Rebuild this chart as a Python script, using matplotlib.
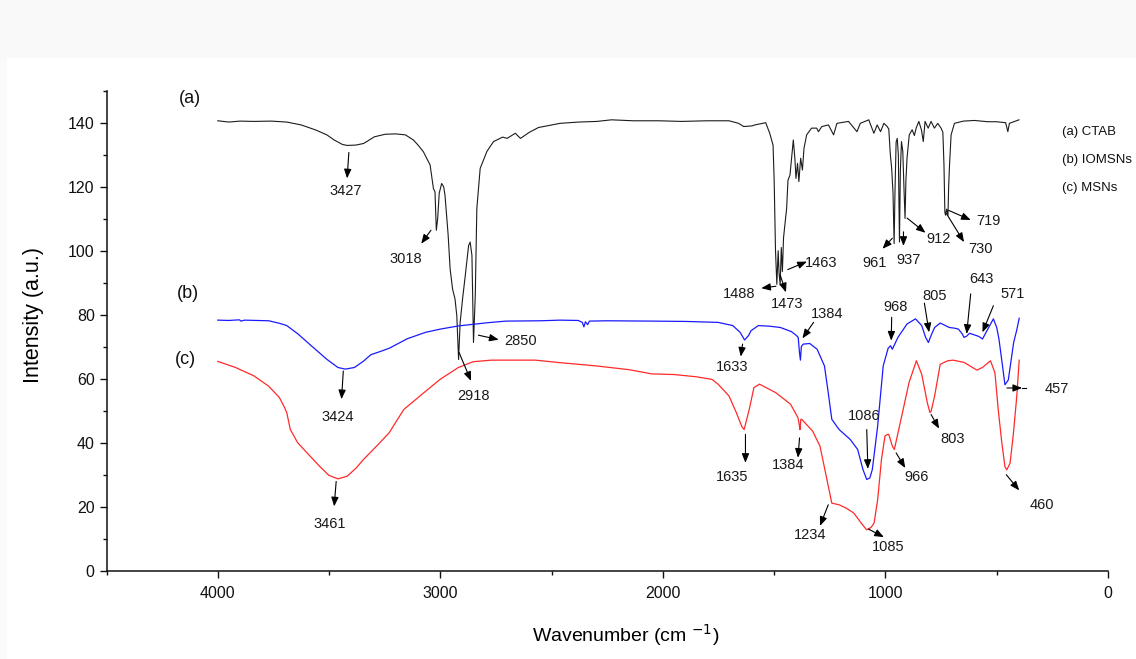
import matplotlib
matplotlib.use("Agg")
import matplotlib.pyplot as plt
from matplotlib.ticker import MultipleLocator, FixedLocator
from matplotlib.patches import Rectangle

plt.rcParams['font.family'] = ['Liberation Sans', 'DejaVu Sans']

# ---------------- data ----------------
ctab_wn = [4000, 3950, 3900, 3838, 3760, 3690, 3625, 3559, 3510, 3477, 3440, 3419, 3380, 3345,
           3296, 3247, 3200, 3157, 3121, 3100, 3076, 3046, 3031, 3024, 3018, 3012, 3005, 2994,
           2985, 2979, 2965, 2956, 2945, 2934, 2926, 2918, 2911, 2900, 2888, 2873, 2866, 2858,
           2851, 2843, 2836, 2821, 2791, 2761, 2720, 2700, 2663, 2640, 2600, 2559, 2500, 2462,
           2379, 2297, 2231, 2132, 2017, 1917, 1802, 1703, 1660, 1637, 1600, 1587, 1538, 1520,
           1505, 1500, 1494, 1488, 1482, 1478, 1473, 1468, 1463, 1458, 1452, 1444, 1438, 1429,
           1414, 1407, 1402, 1395, 1389, 1381, 1373, 1366, 1354, 1332, 1309, 1301, 1286, 1256,
           1233, 1218, 1166, 1128, 1113, 1075, 1052, 1037, 1022, 1007, 992, 985, 978, 972, 966,
           961, 957, 952, 947, 942, 937, 933, 928, 922, 917, 912, 908, 903, 893, 880, 870, 862,
           850, 838, 830, 822, 808, 795, 780, 765, 750, 742, 737, 733, 730, 725, 719, 716, 712,
           705, 690, 650, 600, 540, 500, 460, 450, 443, 420, 400]
ctab_int = [140.6, 140.2, 140.5, 140.4, 140.5, 140.2, 139.3, 137.7, 136.2, 134.6, 133.2, 132.9, 133.0, 133.5,
            135.6, 136.4, 136.5, 136.2, 134.6, 133.0, 130.9, 126.8, 119.4, 118.4, 106.4, 110.0, 118.0, 121.0,
            120.0, 117.3, 105.0, 94.3, 88.0, 84.9, 79.7, 66.0, 77.6, 85.0, 92.2, 101.6, 102.7, 98.5,
            71.3, 86.0, 113.2, 125.7, 131.0, 134.1, 135.5, 135.1, 136.7, 135.1, 137.0, 138.5, 139.3, 139.8,
            140.2, 140.4, 140.9, 140.6, 140.6, 140.4, 140.6, 140.6, 139.8, 138.8, 139.0, 139.3, 140.0, 136.7,
            133.0, 122.0, 100.0, 89.5, 100.0, 93.0, 89.3, 101.0, 93.5, 104.0, 108.0, 113.2, 122.0, 123.6,
            134.6, 128.9, 122.6, 127.3, 121.6, 128.9, 125.2, 132.0, 136.2, 138.3, 138.3, 137.2, 138.8, 139.3,
            136.2, 139.8, 140.4, 137.2, 139.8, 140.9, 136.7, 139.3, 137.2, 139.8, 138.8, 138.0, 130.0, 125.7, 118.0,
            102.2, 119.0, 134.0, 135.1, 130.0, 102.7, 125.0, 134.1, 131.0, 120.0, 110.1, 122.0, 128.9, 136.2, 137.8, 136.0, 138.3,
            140.4, 137.7, 134.1, 140.4, 138.3, 140.4, 138.3, 139.8, 138.3, 137.0, 126.8, 112.0, 111.1, 113.0, 111.1, 120.0, 126.8,
            136.2, 139.8, 140.5, 140.7, 140.3, 140.3, 140.0, 137.2, 139.8, 140.4, 140.9]

iomsn_wn = [4000, 3950, 3903, 3895, 3880, 3771, 3722, 3690, 3640, 3575, 3509, 3460, 3427, 3386,
            3345, 3312, 3270, 3230, 3148, 3066, 3000, 2918, 2787, 2705, 2550, 2462, 2380, 2362,
            2355, 2348, 2338, 2330, 2250, 2050, 1900, 1752, 1686, 1653, 1633, 1615, 1604, 1571,
            1520, 1472, 1422, 1400, 1392, 1386, 1382, 1378, 1370, 1340, 1307, 1274, 1257, 1241,
            1208, 1158, 1125, 1101, 1084, 1070, 1059, 1035, 1010, 988, 977, 969, 944, 903, 865,
            837, 820, 807, 795, 779, 754, 713, 690, 672, 655, 647, 635, 622, 597, 580, 564, 540,
            515, 500, 490, 474, 463, 448, 433, 424, 410, 399]
iomsn_int = [78.3, 78.2, 78.4, 78.0, 78.3, 78.1, 77.3, 76.6, 74.0, 70.0, 66.0, 63.5, 63.0, 63.5,
             65.5, 67.5, 68.5, 69.5, 72.5, 74.5, 75.5, 76.5, 77.5, 78.0, 78.1, 78.3, 78.2, 77.6,
             76.2, 77.8, 76.9, 78.0, 78.1, 78.0, 77.9, 77.6, 76.6, 74.5, 72.1, 73.5, 75.0, 76.6,
             76.4, 76.0, 74.7, 73.5, 72.9, 68.0, 65.8, 70.0, 70.8, 71.0, 69.2, 64.0, 55.6, 47.3,
             44.1, 41.0, 37.9, 31.6, 28.5, 29.0, 31.6, 45.2, 64.0, 69.5, 70.3, 69.2, 72.9, 77.1, 78.7,
             76.6, 73.0, 71.3, 73.5, 76.0, 77.4, 76.0, 75.8, 75.5, 74.0, 72.9, 73.3, 74.2, 73.6, 73.2, 72.4, 75.5,
             78.7, 76.0, 72.4, 64.0, 58.1, 59.6, 66.9, 71.3, 75.2, 78.9]

msn_wn = [4000, 3920, 3838, 3772, 3723, 3700, 3690, 3674, 3641, 3592, 3542, 3501, 3460, 3419,
          3378, 3346, 3280, 3230, 3164, 3083, 3001, 2919, 2853, 2771, 2574, 2460, 2300, 2150,
          2050, 1950, 1850, 1780, 1752, 1703, 1670, 1645, 1635, 1612, 1591, 1566, 1492, 1426,
          1393, 1387, 1384, 1380, 1376, 1327, 1294, 1269, 1241, 1208, 1175, 1142, 1109, 1085,
          1065, 1051, 1035, 1018, 1002, 990, 985, 969, 960, 927, 894, 861, 837, 812, 800, 795,
          779, 754, 720, 696, 647, 589, 564, 528, 508, 493, 477, 463, 455, 440, 425, 410, 399]
msn_int = [65.4, 63.5, 60.9, 57.7, 54.1, 51.0, 49.4, 44.1, 40.0, 36.3, 32.6, 29.8, 28.7, 29.5,
           32.1, 34.7, 39.4, 43.1, 50.4, 55.1, 59.8, 63.5, 65.3, 65.8, 65.8, 65.0, 64.0, 62.8,
           61.5, 61.3, 60.6, 59.8, 58.3, 54.6, 49.4, 45.0, 44.1, 50.4, 57.2, 58.3, 55.6, 52.0,
           47.8, 45.5, 44.1, 47.3, 47.3, 43.6, 38.9, 30.5, 21.1, 20.6, 19.5, 18.0, 14.9, 12.8,
           13.5, 14.9, 22.2, 34.7, 42.1, 42.6, 42.6, 38.9, 37.9, 48.3, 58.8, 65.6, 61.4, 52.5, 49.4, 49.8,
           54.6, 64.5, 65.6, 65.8, 65.1, 62.7, 63.5, 65.6, 61.8, 50.2, 39.9, 32.5, 31.5, 33.6, 42.9, 54.4, 65.8]

# peak labels: text, arrow start, arrow end, text position
peak_labels = ['3427', '3018', '2918', '2850', '1488', '1473', '1463', '961', '937', '912', '730', '719',
               '3424', '1633', '1384', '1086', '968', '805', '643', '571',
               '3461', '1635', '1384', '1234', '1085', '966', '803', '460']
arrow_from = [(3411, 130.7), (3042, 106.4), (2916, 68.2), (2829, 73.6), (1492, 88.9), (1472, 92.2),
              (1439, 94.1), (969, 103.9), (919, 105.9), (903, 110.2), (726, 111.6), (716, 112.6),
              (3436, 62.4), (1642, 70.8), (1323, 77.6), (1084, 44.1), (972, 79.2), (825, 83.6),
              (617, 86.5), (515, 82.8),
              (3468, 27.9), (1629, 42.6), (1386, 41.5), (1257, 20.6), (1076, 13.0), (952, 36.8),
              (795, 48.8), (457, 30.0)]
arrow_to = [(3419, 122.6), (3086, 102.2), (2862, 59.3), (2738, 72.2), (1558, 88.3), (1447, 87.0),
            (1353, 96.6), (1013, 100.6), (919, 101.5), (820, 105.6), (647, 102.7), (617, 109.6),
            (3444, 53.6), (1650, 66.9), (1373, 72.6), (1079, 31.8), (974, 71.9), (804, 74.5),
            (635, 74.0), (564, 74.5),
            (3477, 20.1), (1629, 33.7), (1393, 35.3), (1294, 14.0), (1007, 10.5), (911, 32.1),
            (759, 44.4), (399, 25.1)]
label_pos = [(3427, 118.7), (3157, 97.5), (2850, 54.6), (2640, 71.9), (1658, 86.5), (1444, 83.4),
             (1290, 96.2), (1051, 96.2), (894, 97.1), (762, 103.7), (573, 100.4), (535, 109.2),
             (3460, 48.1), (1690, 63.7), (1261, 80.2), (1096, 48.3), (955, 82.5), (777, 85.8),
             (569, 91.2), (427, 86.5),
             (3498, 14.5), (1691, 29.2), (1436, 33.0), (1340, 11.2), (988, 7.3), (861, 29.3),
             (696, 41.2), (295, 20.6)]

legend_labels = ['(a) CTAB', '(b) IOMSNs', '(c) MSNs']
curve_tags = ['(a)', '(b)', '(c)']
tag_pos = [(4125, 147.7), (4136, 86.5), (4146, 66.1)]

x_ticks = [4000, 3000, 2000, 1000, 0]
y_ticks = [0, 20, 40, 60, 80, 100, 120, 140]

# ---------------- figure ----------------
W, H = 1136, 659
fig = plt.figure(figsize=(W / 100, H / 100), dpi=100)
fig.patches.append(Rectangle((0, 1 - 58 / H), 1, 58 / H, transform=fig.transFigure,
                             facecolor='#f9f9f9', edgecolor='none', zorder=-10))
fig.patches.append(Rectangle((0, 0), 7 / W, 1 - 58 / H, transform=fig.transFigure,
                             facecolor='#fafafa', edgecolor='none', zorder=-10))

left, right, bottom, top = 106.5, 1108, 570.7, 90.7
ax = fig.add_axes([left / W, 1 - bottom / H, (right - left) / W, (bottom - top) / H])
ax.set_facecolor('none')

ax.plot(ctab_wn, ctab_int, color='#1c1c1c', lw=0.8)
ax.plot(iomsn_wn, iomsn_int, color='#1a1aff', lw=0.9)
ax.plot(msn_wn, msn_int, color='#ff2a2a', lw=0.9)

ax.set_xlim(4500, 0)
ax.set_ylim(0, 150)
ax.xaxis.set_major_locator(FixedLocator(x_ticks))
ax.xaxis.set_minor_locator(MultipleLocator(500))
ax.yaxis.set_major_locator(FixedLocator(y_ticks))
ax.yaxis.set_minor_locator(MultipleLocator(10))
for s in ['top', 'right']:
    ax.spines[s].set_visible(False)
for s in ['left', 'bottom']:
    ax.spines[s].set_linewidth(1.1)
    ax.spines[s].set_color('#111111')
ax.tick_params(which='major', direction='out', length=5, width=1.0, labelsize=11.5,
               colors='#111111')
ax.tick_params(which='minor', direction='out', length=3, width=1.0, colors='#111111')
ax.tick_params(axis='x', pad=6)

ax.set_xlabel('Wavenumber (cm $^{-1}$)', fontsize=14)
ax.set_ylabel('Intensity (a.u.)', fontsize=15.5)
ax.xaxis.set_label_coords(0.518, -0.108)
ax.yaxis.set_label_coords(-0.062, 0.533)

# arrows and peak labels
aprops = dict(arrowstyle='-|>,head_length=0.55,head_width=0.22', color='black', lw=0.8,
              shrinkA=0, shrinkB=0)
for lab, a0, a1, p in zip(peak_labels, arrow_from, arrow_to, label_pos):
    ax.annotate('', xy=a1, xytext=a0, arrowprops=aprops)
    ax.text(p[0], p[1], lab, fontsize=10.5, ha='center', va='center', color='#1a1a1a')

# 457 marker (horizontal arrow crossing the curves)
ax.annotate('', xy=(386, 57.1), xytext=(454, 57.1), arrowprops=aprops)
ax.plot([386, 368], [57.1, 57.1], color='black', lw=0.8)
ax.text(231, 56.7, '457', fontsize=10.5, ha='center', va='center', color='#1a1a1a')

for t, p in zip(curve_tags, tag_pos):
    ax.text(p[0], p[1], t, fontsize=13, ha='center', va='center', color='#111111')

for i, lab in enumerate(legend_labels):
    fig.text(1062 / W, 1 - (131.7 + i * 28.3) / H, lab, fontsize=9.5, ha='left', va='center',
             color='#111111')

fig.savefig('out.png', dpi=100)
